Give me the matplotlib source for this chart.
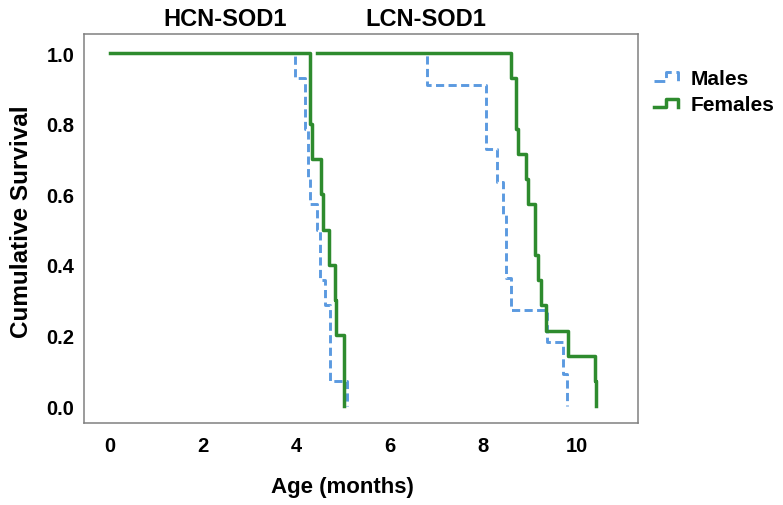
import matplotlib
matplotlib.use("Agg")
import matplotlib.pyplot as plt
from matplotlib.lines import Line2D
from matplotlib.legend_handler import HandlerBase

plt.rcParams["font.family"] = ["Liberation Sans", "DejaVu Sans"]
plt.rcParams["font.weight"] = "bold"

# Kaplan-Meier steps (time in months, survival fraction)
hcn_male_t = [0.0, 3.96, 4.18, 4.25, 4.28, 4.43, 4.50, 4.60, 4.71, 5.07]
hcn_male_s = [1.0, 0.929, 0.786, 0.643, 0.571, 0.5, 0.357, 0.286, 0.071, 0.0]

hcn_female_t = [0.0, 4.28, 4.32, 4.53, 4.57, 4.70, 4.83, 4.85, 5.01]
hcn_female_s = [1.0, 0.8, 0.7, 0.6, 0.5, 0.4, 0.3, 0.2, 0.0]

lcn_male_t = [4.44, 6.78, 8.05, 8.29, 8.42, 8.49, 8.58, 9.36, 9.71, 9.78]
lcn_male_s = [1.0, 0.909, 0.727, 0.636, 0.545, 0.364, 0.273, 0.182, 0.091, 0.0]

lcn_female_t = [4.44, 8.60, 8.69, 8.74, 8.92, 8.96, 9.10, 9.16, 9.24, 9.34, 9.81, 10.39, 10.42]
lcn_female_s = [1.0, 0.929, 0.786, 0.714, 0.643, 0.571, 0.429, 0.357, 0.286, 0.214, 0.143, 0.071, 0.0]

x_ticks = [0, 2, 4, 6, 8, 10]
y_ticks = [0.0, 0.2, 0.4, 0.6, 0.8, 1.0]
group_labels = ["HCN-SOD1", "LCN-SOD1"]
legend_labels = ["Males", "Females"]

MALE_COLOR = "#5b9ae0"
FEMALE_COLOR = "#2e8b2e"
MALE_STYLE = dict(color=MALE_COLOR, lw=2.1, linestyle=(0, (2.8, 1.5)))
FEMALE_STYLE = dict(color=FEMALE_COLOR, lw=2.5, linestyle="-")


class StepHandler(HandlerBase):
    """Small step-shaped legend key, like the SPSS survival legend."""

    def create_artists(self, legend, orig_handle, xdescent, ydescent,
                       width, height, fontsize, trans):
        x0, y0 = -xdescent, -ydescent
        xs = [x0, x0 + 0.45 * width, x0 + 0.45 * width, x0 + 0.9 * width, x0 + 0.9 * width]
        lo, hi = y0 + 0.2 * height, y0 + 0.8 * height
        ys = [lo, lo, hi, hi, lo]
        line = Line2D(xs, ys, color=orig_handle.get_color(),
                      lw=orig_handle.get_linewidth(),
                      linestyle=orig_handle.get_linestyle(),
                      transform=trans)
        return [line]


W, H = 783, 506
fig = plt.figure(figsize=(W / 100, H / 100), dpi=100)
ax = fig.add_axes([84 / W, 1 - 424 / H, (638 - 84) / W, (424 - 35) / H])

ax.step(hcn_male_t, hcn_male_s, where="post", **MALE_STYLE)
ax.step(lcn_male_t, lcn_male_s, where="post", **MALE_STYLE)
ax.step(hcn_female_t, hcn_female_s, where="post", **FEMALE_STYLE)
ax.step(lcn_female_t, lcn_female_s, where="post", **FEMALE_STYLE)

ax.set_xlim(-0.557, 11.31)
ax.set_ylim(-0.048, 1.054)
ax.set_xticks(x_ticks)
ax.set_yticks(y_ticks)
ax.set_yticklabels([f"{v:.1f}" for v in y_ticks])
ax.tick_params(length=0, labelsize=14.5, pad=0)
ax.tick_params(axis="x", pad=9)
ax.tick_params(axis="y", pad=7)
for lab in ax.get_xticklabels() + ax.get_yticklabels():
    lab.set_fontweight("bold")
for sp in ax.spines.values():
    sp.set_color("#808080")
    sp.set_linewidth(1.1)

fig.text(22 / W, 1 - 222 / H, "Cumulative Survival", rotation=90,
         ha="center", va="center", fontsize=17.5, fontweight="bold")
fig.text(342 / W, 1 - 488 / H, "Age (months)",
         ha="center", va="center", fontsize=16, fontweight="bold")
fig.text(225 / W, 1 - 19 / H, group_labels[0],
         ha="center", va="center", fontsize=17, fontweight="bold")
fig.text(426 / W, 1 - 19 / H, group_labels[1],
         ha="center", va="center", fontsize=17, fontweight="bold")

handles = [Line2D([], [], **MALE_STYLE), Line2D([], [], **FEMALE_STYLE)]
fig.legend(handles, legend_labels, handler_map={Line2D: StepHandler()},
           loc="upper left", bbox_to_anchor=(654 / W, 1 - 70 / H),
           frameon=False, borderpad=0, borderaxespad=0,
           handlelength=1.3, handletextpad=0.45, labelspacing=0.35,
           prop={"size": 15, "weight": "bold"})

fig.savefig("out.png", dpi=100)
